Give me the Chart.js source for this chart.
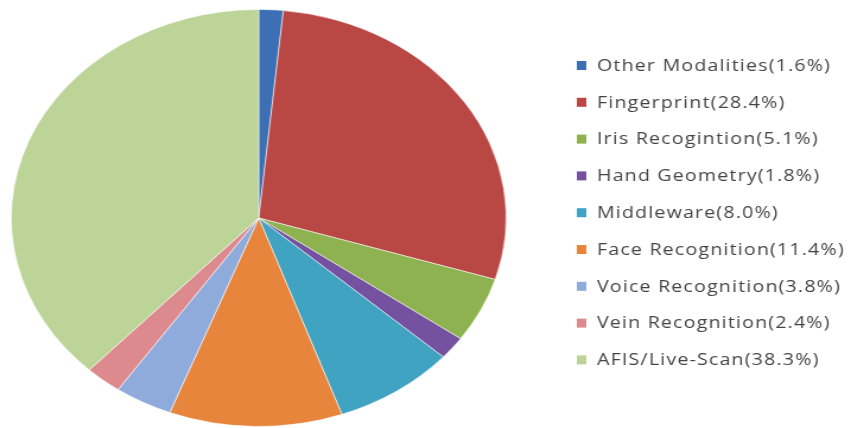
<!DOCTYPE html>
<html lang="en">
<head>
<meta charset="UTF-8">
<title>Biometric Market Share</title>
<script src="https://cdn.jsdelivr.net/npm/chart.js"></script>
<style>
  body { margin: 0; background: #fff; }
</style>
</head>
<body>
<!-- canvas drawn narrower and stretched out sideways, so the pie is an oval -->
<canvas id="pieChart" width="717" height="428" style="display:block;width:851px;height:428px"></canvas>
<script>
const modalities = ['Other Modalities', 'Fingerprint', 'Iris Recogintion', 'Hand Geometry', 'Middleware',
  'Face Recognition', 'Voice Recognition', 'Vein Recognition', 'AFIS/Live-Scan'];
const shares = [1.6, 28.4, 5.1, 1.8, 8.0, 11.4, 3.8, 2.4, 38.3];
const colors = ['#3d6fb5', '#b94845', '#8db24f', '#7552a0', '#3fa3c1', '#e8853c', '#8eabdc', '#dc8a8e', '#bdd499'];

// legend column on the right: square swatch + "name(share%)"
const sideLegend = {
  id: 'sideLegend',
  afterDraw(chart) {
    const ctx = chart.ctx;
    ctx.save();
    ctx.font = '16.5px "Open Sans"';
    ctx.letterSpacing = '1px';
    ctx.textBaseline = 'middle';
    chart.data.labels.forEach((label, i) => {
      const y = 66 + i * 36.8;
      ctx.fillStyle = colors[i];
      ctx.fillRect(486, y - 5, 8, 9);
      ctx.fillStyle = '#444444';
      ctx.fillText(label + '(' + shares[i].toFixed(1) + '%)', 503, y);
    });
    ctx.restore();
  }
};

new Chart(document.getElementById('pieChart'), {
  type: 'pie',
  data: {
    labels: modalities,
    datasets: [{
      data: shares,
      backgroundColor: colors,
      borderColor: 'rgba(255,255,255,0.55)',
      borderWidth: 1
    }]
  },
  options: {
    responsive: false,
    animation: false,
    layout: { padding: { left: 0, top: 9, bottom: 1, right: 281 } },
    plugins: {
      legend: { display: false },
      tooltip: { enabled: false }
    }
  },
  plugins: [sideLegend]
});
</script>
</body>
</html>
